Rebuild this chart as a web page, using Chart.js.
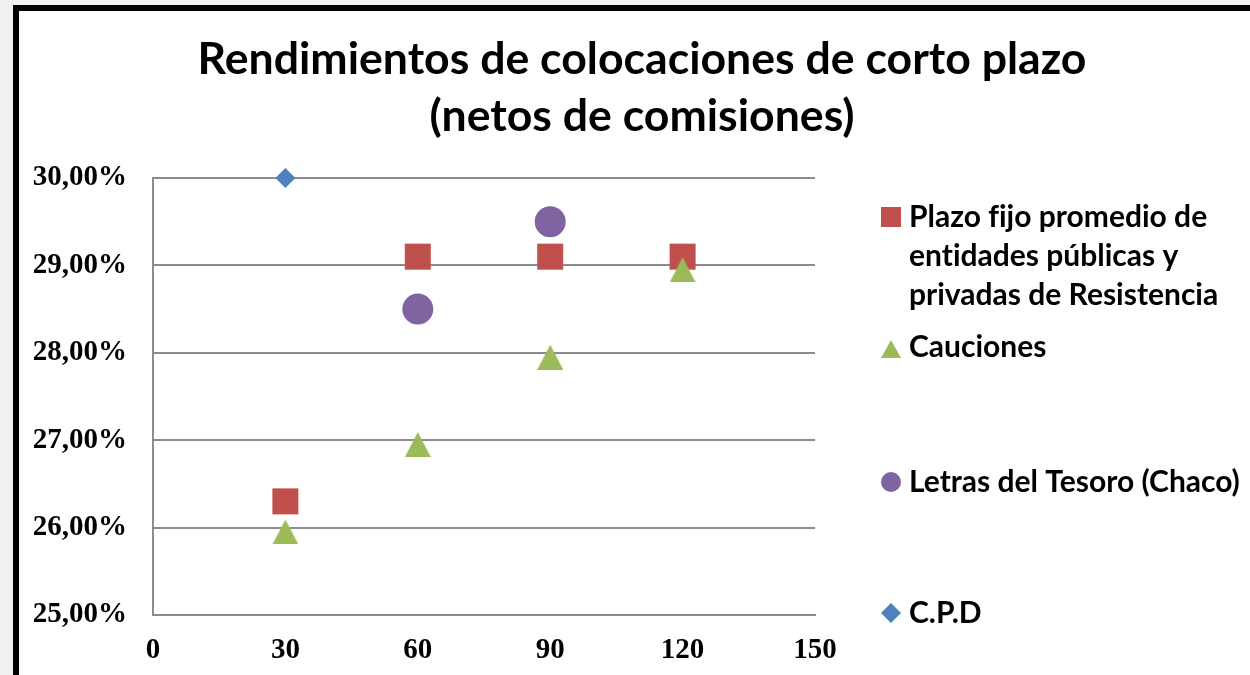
<!DOCTYPE html>
<html>
<head>
<meta charset="utf-8">
<script src="https://cdn.jsdelivr.net/npm/chart.js@4/dist/chart.umd.min.js"></script>
<style>
  html, body { margin: 0; padding: 0; width: 1250px; height: 675px; overflow: hidden; background: #f2f1f0; }
  #frame { position: absolute; left: 13px; top: 5px; width: 1300px; height: 720px; background: #fff; border: 6px solid #000; }
  #wrap { position: absolute; left: 17px; top: 0; width: 1250px; height: 675px; }
</style>
</head>
<body>
<div id="frame"></div>
<div id="wrap"><canvas id="scatterChart" width="1250" height="675"></canvas></div>
<script>
// Plazos (días) y rendimientos (%)
const plazoFijoX = [30, 60, 90, 120];
const plazoFijoY = [26.3, 29.1, 29.1, 29.1];
const caucionesX = [30, 60, 90, 120];
const caucionesY = [25.95, 26.95, 27.95, 28.95];
const letrasX = [60, 90];
const letrasY = [28.5, 29.5];
const cpdX = [30];
const cpdY = [30.0];

const seriesNames = [
    ["Plazo fijo promedio de", "entidades públicas y", "privadas de Resistencia"],
    ["Cauciones"],
    ["Letras del Tesoro (Chaco)"],
    ["C.P.D"],
];
const titleLines = ["Rendimientos de colocaciones de corto plazo", "(netos de comisiones)"];
const xTicks = [0, 30, 60, 90, 120, 150];
const yTicks = [25, 26, 27, 28, 29, 30];

const colors = ["#C0504D", "#9BBB59", "#8064A2", "#4F81BD"];

function toPoints(xs, ys) {
    return xs.map((x, i) => ({ x: x, y: ys[i] }));
}

// triangle marker like the Excel one (26 wide, 25 tall)
function triangleImage(w, h, color) {
    const c = document.createElement("canvas");
    c.width = w;
    c.height = h;
    const g = c.getContext("2d");
    g.fillStyle = color;
    g.beginPath();
    g.moveTo(w / 2, 0);
    g.lineTo(w, h);
    g.lineTo(0, h);
    g.closePath();
    g.fill();
    return c;
}

const OFFSET_X = 17;
const legendRows = [
    { baselines: [227, 266, 305], marker: 217, style: "rect" },
    { baselines: [357], marker: 349, style: "triangle" },
    { baselines: [492], marker: 482, style: "circle" },
    { baselines: [623], marker: 613, style: "diamond" },
];

// title centred on the whole frame, not on the plot
const frameTitle = {
    id: "frameTitle",
    afterDraw(chart) {
        const ctx = chart.ctx;
        ctx.save();
        ctx.font = "bold 44.6px Lato";
        ctx.fillStyle = "#000";
        ctx.textAlign = "center";
        ctx.textBaseline = "alphabetic";
        ctx.fillText(titleLines[0], 642 - OFFSET_X, 74);
        ctx.fillText(titleLines[1], 642 - OFFSET_X, 131);
        ctx.restore();
    },
};

const sideLegend = {
    id: "sideLegend",
    afterDraw(chart) {
        const ctx = chart.ctx;
        const mx = 891 - OFFSET_X;
        const tx = 909 - OFFSET_X;
        ctx.save();
        ctx.font = "bold 30px Lato";
        ctx.textRendering = "optimizeSpeed"; // no "fi" ligature
        ctx.textBaseline = "alphabetic";
        ctx.textAlign = "left";
        legendRows.forEach((row, i) => {
            const my = row.marker;
            ctx.fillStyle = colors[i];
            ctx.beginPath();
            if (row.style === "rect") {
                ctx.rect(mx - 10, my - 10, 20, 20);
            } else if (row.style === "triangle") {
                ctx.moveTo(mx, my - 9);
                ctx.lineTo(mx + 10, my + 9);
                ctx.lineTo(mx - 10, my + 9);
                ctx.closePath();
            } else if (row.style === "circle") {
                ctx.arc(mx, my, 10, 0, Math.PI * 2);
            } else {
                ctx.moveTo(mx, my - 10);
                ctx.lineTo(mx + 10, my);
                ctx.lineTo(mx, my + 10);
                ctx.lineTo(mx - 10, my);
                ctx.closePath();
            }
            ctx.fill();
            ctx.fillStyle = "#000";
            seriesNames[i].forEach((line, j) => {
                ctx.fillText(line, tx, row.baselines[j]);
            });
        });
        ctx.restore();
    },
};

const ctx = document.getElementById("scatterChart").getContext("2d");
const scatterChart = new Chart(ctx, {
    type: "scatter",
    data: {
        datasets: [
            {
                label: seriesNames[0].join(" "),
                data: toPoints(plazoFijoX, plazoFijoY),
                backgroundColor: colors[0],
                borderColor: colors[0],
                pointStyle: "rect",
                pointRadius: 18.4,
                pointBorderWidth: 0,
                clip: false,
                order: 2,
            },
            {
                label: seriesNames[1].join(" "),
                data: toPoints(caucionesX, caucionesY),
                backgroundColor: colors[1],
                borderColor: colors[1],
                pointStyle: triangleImage(26, 25, colors[1]),
                clip: false,
                order: 1,
            },
            {
                label: seriesNames[2].join(" "),
                data: toPoints(letrasX, letrasY),
                backgroundColor: colors[2],
                borderColor: colors[2],
                pointStyle: "circle",
                pointRadius: 15.5,
                pointBorderWidth: 0,
                clip: false,
                order: 2,
            },
            {
                label: seriesNames[3].join(" "),
                data: toPoints(cpdX, cpdY),
                backgroundColor: colors[3],
                borderColor: colors[3],
                pointStyle: "rectRot",
                pointRadius: 10,
                pointBorderWidth: 0,
                clip: false,
                order: 2,
            },
        ],
    },
    options: {
        responsive: false,
        animation: false,
        layout: {
            padding: { left: 0, right: 452, top: 178, bottom: 0 },
        },
        plugins: {
            legend: { display: false },
            tooltip: { enabled: false },
            title: { display: false },
        },
        scales: {
            x: {
                type: "linear",
                min: 0,
                max: 150,
                afterBuildTicks: (axis) => {
                    axis.ticks = xTicks.map((v) => ({ value: v }));
                },
                afterFit: (axis) => {
                    axis.height = 60;
                },
                grid: { display: false, drawTicks: false },
                border: { display: true, color: "#8c8c8c", width: 2 },
                ticks: {
                    color: "#000",
                    padding: 18,
                    maxRotation: 0,
                    font: { family: "Liberation Serif", size: 29, weight: "bold" },
                },
            },
            y: {
                min: 25,
                max: 30,
                afterBuildTicks: (axis) => {
                    axis.ticks = yTicks.map((v) => ({ value: v }));
                },
                afterFit: (axis) => {
                    axis.width = 136;
                },
                grid: { color: "#8c8c8c", lineWidth: 2, drawTicks: false },
                border: { display: true, color: "#8c8c8c", width: 2 },
                ticks: {
                    color: "#000",
                    padding: 26,
                    font: { family: "Liberation Serif", size: 29, weight: "bold" },
                    callback: (v) => v.toFixed(2).replace(".", ",") + "%",
                },
            },
        },
    },
    plugins: [frameTitle, sideLegend],
});
</script>
</body>
</html>
